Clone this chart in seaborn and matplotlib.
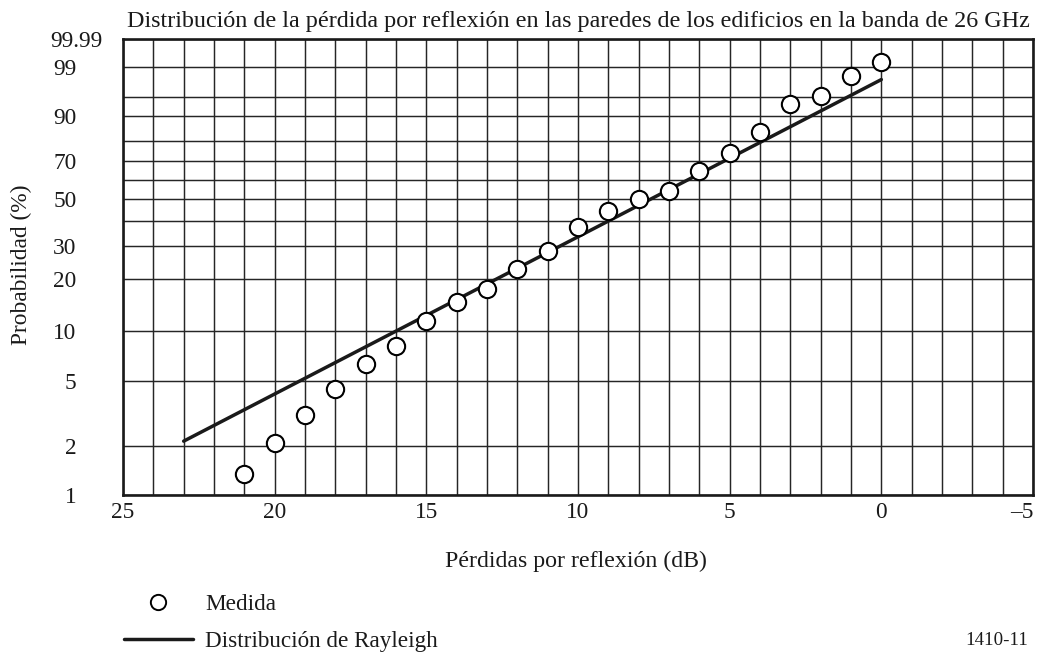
import numpy as np
import pandas as pd
import matplotlib
matplotlib.use("Agg")
import matplotlib.pyplot as plt
import seaborn as sns
from matplotlib.lines import Line2D
from matplotlib.ticker import FixedLocator, FixedFormatter, MultipleLocator, NullFormatter

# ---------------- data ----------------
loss_db = [21, 20, 19, 18, 17, 16, 15, 14, 13, 12, 11, 10, 9, 8, 7, 6, 5, 4, 3, 2, 1, 0]
measured_pct = [1.35, 2.10, 3.12, 4.49, 6.37, 8.16, 11.5, 14.8, 17.6, 22.7, 28.3,
                37.5, 44.6, 50.4, 54.5, 65.0, 74.3, 84.0, 93.3, 95.2, 98.3, 99.3]
rayleigh_db = [23, 0]
rayleigh_pct = [2.15, 97.9]

x_major = [25, 20, 15, 10, 5, 0, -5]
x_major_labels = ["25", "20", "15", "10", "5", "0", "\u20135"]
y_major = [1, 2, 5, 10, 20, 30, 50, 70, 90, 99, 99.9]
y_major_labels = ["1", "2", "5", "10", "20", "30", "50", "70", "90", "99", "99.99"]
y_minor = [40, 60, 80, 95]

title = "Distribución de la pérdida por reflexión en las paredes de los edificios en la banda de 26 GHz"
xlabel = "Pérdidas por reflexión (dB)"
ylabel = "Probabilidad (%)"
legend_labels = ["Medida", "Distribución de Rayleigh"]
fig_code = "1410-11"

# ---------------- style ----------------
sns.set_theme(style="white")
plt.rcParams["font.family"] = ["Liberation Serif", "DejaVu Serif"]
plt.rcParams["axes.unicode_minus"] = True

fig = plt.figure(figsize=(10.41, 6.52), dpi=100)
ax = fig.add_axes([123 / 1041, 1 - 495 / 652, 910 / 1041, 456 / 652])


def fwd(p):
    p = np.clip(np.asarray(p, dtype=float) / 100.0, 1e-9, 1 - 1e-12)
    return np.log10(-np.log1p(-p))


def inv(v):
    return 100.0 * (-np.expm1(-np.power(10.0, np.asarray(v, dtype=float))))


ax.set_yscale("function", functions=(fwd, inv))

df_meas = pd.DataFrame({"loss": loss_db, "prob": measured_pct})
df_ray = pd.DataFrame({"loss": rayleigh_db, "prob": rayleigh_pct})

sns.lineplot(data=df_ray, x="loss", y="prob", ax=ax, color="#1a1a1a",
             linewidth=2.5, zorder=3, legend=False)
sns.scatterplot(data=df_meas, x="loss", y="prob", ax=ax, marker="o", s=155,
                facecolor="white", edgecolor="black", linewidth=1.5,
                zorder=5, legend=False)

ax.set_xlim(25, -5)
ax.set_ylim(1, 99.9)

ax.xaxis.set_major_locator(FixedLocator(x_major))
ax.xaxis.set_major_formatter(FixedFormatter(x_major_labels))
ax.xaxis.set_minor_locator(MultipleLocator(1))
ax.xaxis.set_minor_formatter(NullFormatter())

ax.yaxis.set_major_locator(FixedLocator(y_major))
ax.yaxis.set_major_formatter(FixedFormatter(y_major_labels))
ax.yaxis.set_minor_locator(FixedLocator(y_minor))
ax.yaxis.set_minor_formatter(NullFormatter())

ax.grid(True, which="both", color="#262626", linewidth=1.05)
ax.set_axisbelow(True)
for s in ax.spines.values():
    s.set_visible(True)
    s.set_color("#1a1a1a")
    s.set_linewidth(1.9)

ax.tick_params(axis="both", which="both", length=0, labelsize=16.8, colors="#1a1a1a")
ax.tick_params(axis="x", pad=5)
ax.tick_params(axis="y", pad=33.5)
ax.set_xlabel("")
ax.set_ylabel("")

fig.text(578.5 / 1041, 1 - 27 / 652, title, ha="center", va="baseline",
         fontsize=17.4, color="#1a1a1a")
fig.text(576 / 1041, 1 - 567 / 652, xlabel, ha="center", va="baseline",
         fontsize=17.2, color="#1a1a1a")
fig.text(21 / 1041, 1 - 265 / 652, ylabel, ha="center", va="center",
         rotation=90, fontsize=16.8, color="#1a1a1a")
fig.text(1028 / 1041, 1 - 645 / 652, fig_code, ha="right", va="baseline",
         fontsize=13.6, color="#1a1a1a")

handles = [
    Line2D([], [], linestyle="none", marker="o", markersize=11,
           markerfacecolor="white", markeredgecolor="black", markeredgewidth=1.4),
    Line2D([], [], color="#1a1a1a", linewidth=2.5),
]
fig.legend(handles, legend_labels, loc="upper left",
           bbox_to_anchor=(124 / 1041, 1 - 594 / 652), frameon=False,
           fontsize=16.7, handlelength=2.97, handletextpad=0.52,
           labelspacing=0.66, borderpad=0, borderaxespad=0,
           labelcolor="#1a1a1a")

# special alignment of the outermost tick labels, as in the reference
fig.canvas.draw()
for lbl in ax.yaxis.get_majorticklabels():
    if lbl.get_text() == "99.99":
        lbl.set_horizontalalignment("center")
for lbl in ax.xaxis.get_majorticklabels():
    if lbl.get_text() == "\u20135":
        lbl.set_horizontalalignment("right")

fig.savefig("out.png", dpi=100)
